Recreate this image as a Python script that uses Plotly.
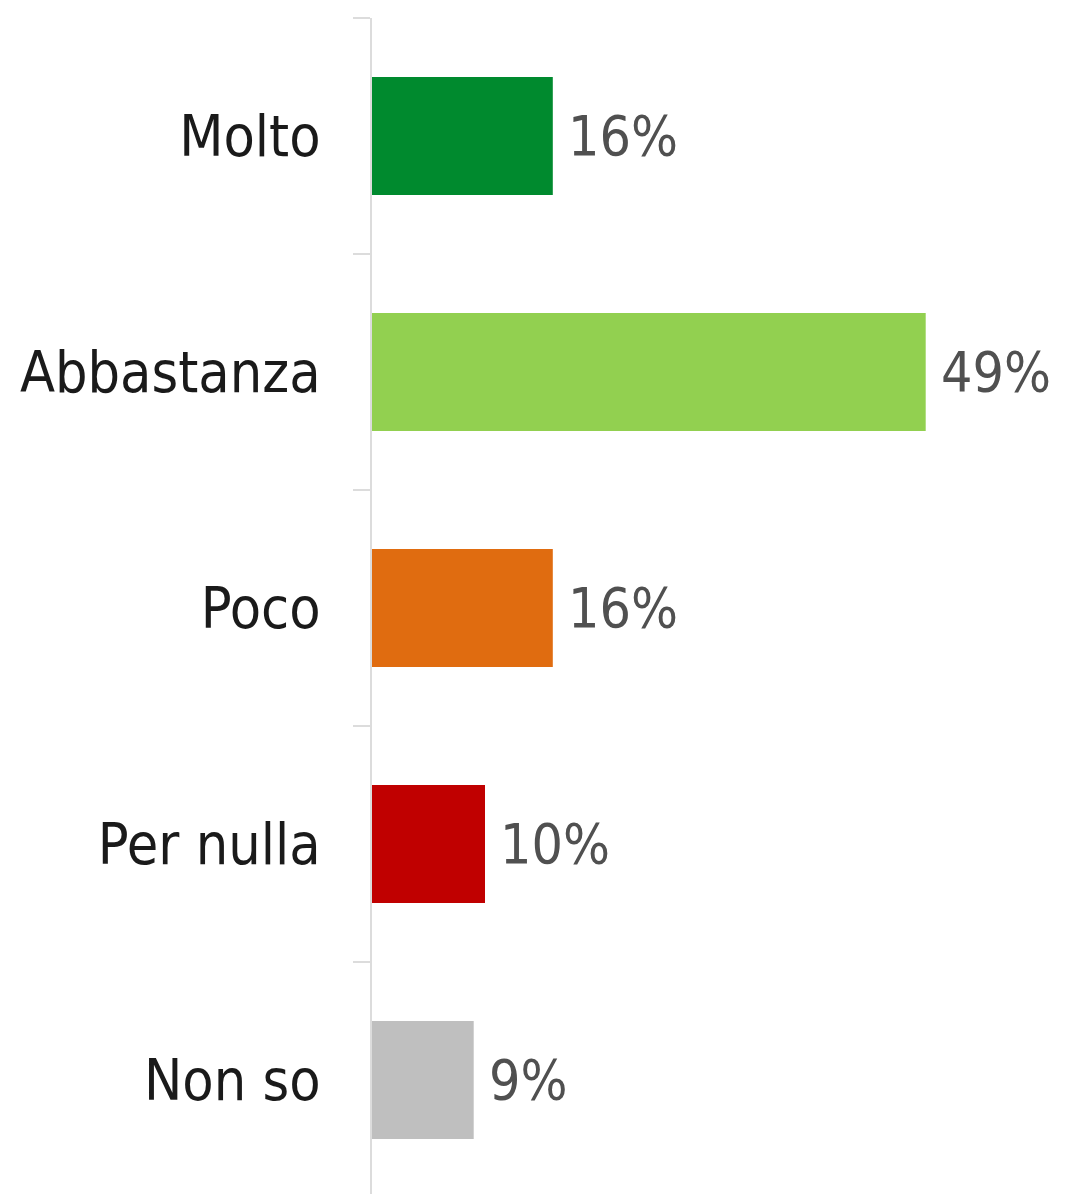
import plotly.graph_objects as go

categories = ["Molto", "Abbastanza", "Poco", "Per nulla", "Non so"]
values = [16, 49, 16, 10, 9]
labels = ["16%", "49%", "16%", "10%", "9%"]
colors = ["#008a2e", "#92d050", "#e06c10", "#c00000", "#bfbfbf"]

FONT = "Liberation Sans Narrow, DejaVu Sans Condensed, Roboto, sans-serif"

fig = go.Figure()
fig.add_trace(go.Bar(
    x=values, y=categories, orientation="h",
    marker=dict(color=colors, line=dict(width=0)),
    width=0.5, hoverinfo="skip",
))

for c, v, t in zip(categories, values, labels):
    fig.add_annotation(
        x=v, y=c, text=t, showarrow=False, xanchor="left", yanchor="middle",
        xshift=13, font=dict(family=FONT, size=55, color="#505050"),
    )

fig.update_layout(
    width=1058, height=1186,
    margin=dict(l=364, r=16, t=10, b=0),
    plot_bgcolor="white", paper_bgcolor="white",
    showlegend=False,
    xaxis=dict(range=[0, 60], visible=False, showgrid=False, zeroline=False,
               automargin=False),
    yaxis=dict(
        categoryorder="array", categoryarray=categories,
        range=[4.483, -0.5],
        automargin=False,
        showline=True, linecolor="#dcdcdc", linewidth=2,
        ticks="outside", tickson="boundaries", ticklen=17,
        tickcolor="#dcdcdc", tickwidth=2,
        ticklabelstandoff=38,
        tickfont=dict(family=FONT, size=57, color="#1a1a1a"),
        showgrid=False, zeroline=False,
    ),
)

fig.write_html("out.html")
